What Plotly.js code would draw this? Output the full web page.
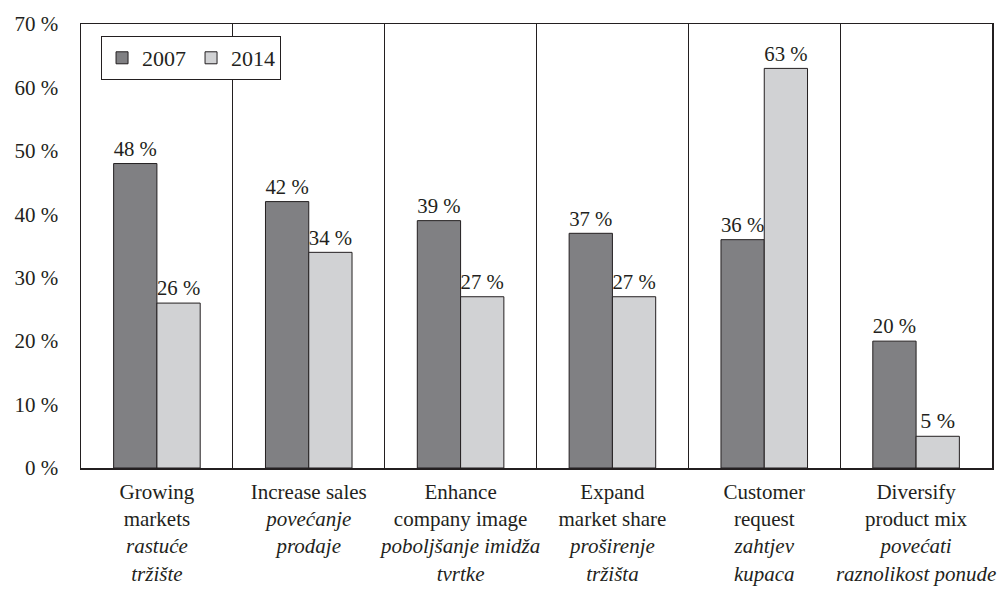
<!DOCTYPE html>
<html>
<head>
<meta charset="utf-8">
<script src="https://cdn.plot.ly/plotly-3.0.1.min.js"></script>
<style>html,body{margin:0;padding:0;background:#fff;}#chart{width:1005px;height:590px;}</style>
</head>
<body>
<div id="chart"></div>
<script>
const categories = [
  "Growing<br>markets<br><i>rastuće<br>tržište</i>",
  "Increase sales<br><i>povećanje<br>prodaje</i>",
  "Enhance<br>company image<br><i>poboljšanje imidža<br>tvrtke</i>",
  "Expand<br>market share<br><i>proširenje<br>tržišta</i>",
  "Customer<br>request<br><i>zahtjev<br>kupaca</i>",
  "Diversify<br>product mix<br><i>povećati<br>raznolikost ponude</i>"
];
const values2007 = [48, 42, 39, 37, 36, 20];
const values2014 = [26, 34, 27, 27, 63, 5];
const seriesNames = ["2007", "2014"];
const yTicks = [0, 10, 20, 30, 40, 50, 60, 70];

const font = {family: "Times New Roman, Liberation Serif, serif", color: "#231f20"};

function bar(name, vals, color) {
  return {
    type: "bar", name: name, x: categories, y: vals,
    marker: {color: color, line: {color: "#231f20", width: 1}},
    text: vals.map(v => v + " %"), textposition: "outside",
    textfont: Object.assign({size: 22}, font), cliponaxis: false
  };
}

const data = [
  bar(seriesNames[0], values2007, "#808083"),
  bar(seriesNames[1], values2014, "#d1d2d4")
];

const layout = {
  width: 1005, height: 590,
  margin: {l: 81, r: 13, t: 24, b: 122},
  paper_bgcolor: "#fff", plot_bgcolor: "#fff",
  font: Object.assign({size: 21}, font),
  barmode: "group", bargap: 0.43, bargroupgap: 0,
  showlegend: true,
  legend: {
    orientation: "h", x: 0.022, y: 0.973, xanchor: "left", yanchor: "top",
    bgcolor: "#fff", bordercolor: "#231f20", borderwidth: 1,
    font: Object.assign({size: 22}, font), itemwidth: 30, tracegroupgap: 0
  },
  xaxis: {
    type: "category", tickson: "boundaries", showgrid: true, gridcolor: "#231f20", gridwidth: 1,
    showline: true, mirror: true, linecolor: "#231f20", linewidth: 1.5,
    ticks: "", tickfont: Object.assign({size: 21}, font), tickangle: 0, automargin: false,
    ticklabelstandoff: 4
  },
  yaxis: {
    range: [0, 70], tickvals: yTicks, ticktext: yTicks.map(v => v + " %"),
    showgrid: false, zeroline: false, showline: true, mirror: true,
    linecolor: "#231f20", linewidth: 1.5, ticks: "",
    tickfont: Object.assign({size: 21}, font), automargin: false,
    ticklabelstandoff: 17
  }
};

Plotly.newPlot("chart", data, layout, {displayModeBar: false, staticPlot: true});
</script>
</body>
</html>
